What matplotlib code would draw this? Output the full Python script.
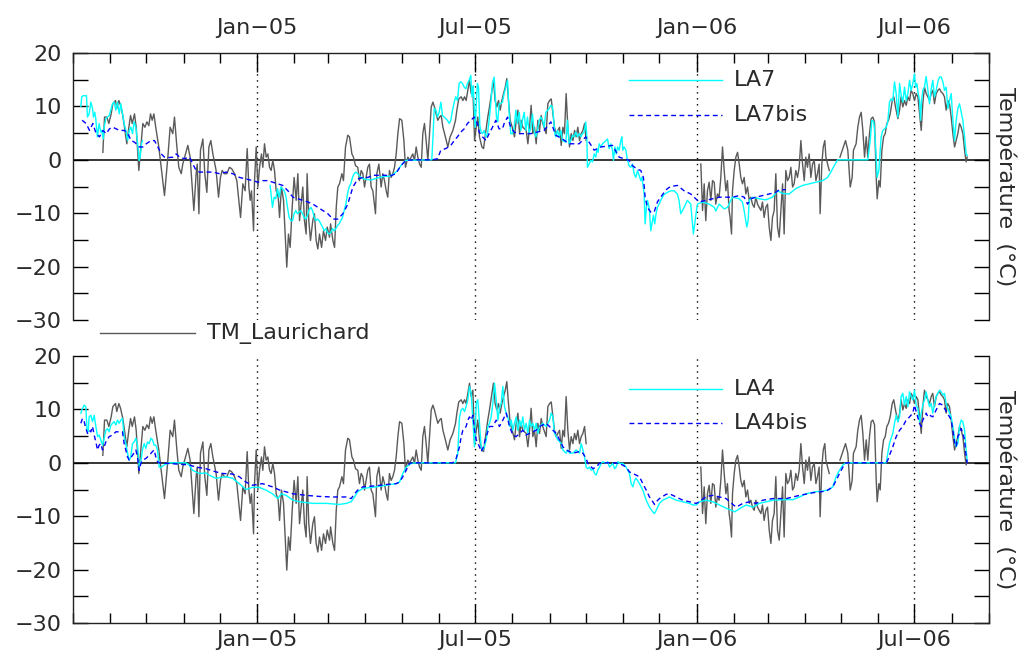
import numpy as np
import matplotlib
matplotlib.use("Agg")
import matplotlib.pyplot as plt
import matplotlib.dates as mdates
from matplotlib.lines import Line2D
from matplotlib.ticker import FuncFormatter, MultipleLocator
from datetime import datetime

# jours depuis le 1er aout 2004, temperature en degC (nan = trou dans la serie)
START = datetime(2004, 8, 1)

tm_laurichard = [
    (24.8, 1.4), (26.2, 8.0), (28.1, 8.0), (29.8, 6.8), (31.7, 8.6), (33.1, 10.5), (35.3, 11.1),
    (36.4, 9.6), (38.1, 11.1), (39.5, 10.2), (41.4, 8.3), (42.8, 6.1), (44.7, 3.0), (46.4, 6.1),
    (47.8, 8.3), (49.2, 6.8), (51.1, 8.6), (52.5, 6.1), (54.7, -2.0), (56.1, 1.8), (58.0, 6.8),
    (59.7, 6.1), (61.4, 7.1), (63.0, 6.4), (64.4, 8.6), (65.8, 7.4), (67.2, 8.6), (68.8, 6.0),
    (71.3, 2.4), (73.3, -1.4), (76.0, -6.7), (78.8, 0.5), (80.7, 6.1), (82.9, 4.9), (84.3, 8.0),
    (86.3, 2.4), (87.9, -1.4), (89.9, -2.6), (91.2, -0.8), (93.5, 1.1), (95.4, 2.7), (97.3, 0.5),
    (99.0, -5.1), (100.4, -9.5), (102.3, -2.6), (103.2, -0.8), (104.6, -10.1), (105.9, 1.8),
    (107.9, 3.9), (109.5, -2.6), (111.2, -6.1), (112.9, 2.4), (114.5, 3.6), (116.2, 1.1),
    (118.9, -2.0), (120.9, -7.0), (122.5, -3.3), (123.9, -2.0), (125.8, -2.6), (127.8, -2.6),
    (130.0, -1.4), (131.9, -1.7), (134.2, -2.6), (136.1, -3.9), (137.8, -7.6), (139.2, -10.8),
    (141.1, -4.5), (143.0, -5.8), (144.7, 2.1), (146.1, -5.1), (147.2, -7.6), (148.3, -5.8),
    (150.0, -13.3), (150.8, -3.9), (152.2, 2.4), (153.6, -5.1), (155.0, -1.4), (156.6, 1.1),
    (157.7, -1.4), (159.1, 3.0), (160.5, 0.5), (161.9, 1.1), (163.3, -1.4), (164.6, -2.0),
    (166.0, -0.1), (167.4, -2.0), (168.8, -5.8), (170.5, -7.0), (171.6, -10.8), (173.2, -5.1),
    (174.9, -7.6), (176.5, -15.1), (177.6, -20.1), (179.0, -13.9), (180.4, -16.4), (182.1, -8.9),
    (183.7, -3.3), (185.4, -7.6), (186.8, -2.6), (188.2, -11.4), (189.5, -8.3), (190.9, -5.1),
    (192.3, -11.4), (193.7, -13.9), (194.5, -2.6), (195.9, -11.4), (197.3, -15.1), (199.2, -11.4),
    (200.6, -10.1), (202.0, -15.1), (203.4, -16.7), (204.8, -13.9), (206.5, -16.4), (208.1, -13.3),
    (209.8, -15.1), (211.2, -12.6), (213.1, -14.5), (214.0, -12.0), (215.9, -15.1), (217.3, -16.4),
    (218.7, -8.9), (220.0, -5.1), (221.4, -4.5), (223.4, -2.6), (224.7, -3.9), (226.4, 2.4),
    (228.3, 4.6), (229.7, 4.3), (231.7, 1.1), (233.0, 0.5), (234.7, -1.1), (236.6, -1.4),
    (238.0, -3.9), (239.4, -2.0), (240.8, -2.6), (242.2, -5.1), (243.5, -3.3), (244.9, -1.4),
    (246.3, -0.8), (247.7, -5.1), (249.1, -5.8), (251.3, -10.1), (252.4, -2.6), (254.1, -0.8),
    (256.0, -5.1), (257.4, -2.6), (258.8, -3.9), (260.2, -5.8), (261.5, -7.0), (262.9, -2.0),
    (264.3, -3.3), (265.7, -2.6), (267.1, -1.4), (268.5, 1.1), (269.9, 4.9), (271.3, 7.7),
    (273.2, 7.4), (274.9, 3.6), (276.2, -1.4), (278.2, 0.5), (279.6, -0.1), (281.0, 0.5),
    (282.3, 1.1), (283.7, -0.1), (285.1, 2.4), (286.5, 0.5), (287.9, -0.8), (289.3, -1.4),
    (290.6, 4.9), (292.0, 6.8), (293.4, 3.6), (294.8, -0.1), (296.2, 4.9), (297.6, 9.9),
    (299.0, 10.8), (300.3, 9.9), (301.7, 8.6), (303.1, 7.4), (304.5, 8.0), (305.9, 8.3),
    (307.3, 6.1), (308.7, 4.9), (311.4, 2.4), (313.3, 4.3), (315.6, 5.5), (317.8, 7.4),
    (318.9, 9.3), (320.5, 11.4), (322.5, 11.8), (323.9, 11.1), (325.3, 11.8), (326.6, 11.1),
    (328.0, 13.0), (329.4, 14.9), (330.8, 12.4), (332.2, 13.6), (333.6, 3.6), (335.0, 6.1),
    (336.3, 8.0), (337.7, 4.3), (339.7, 2.4), (341.1, 2.1), (342.7, 4.9), (344.6, 8.0),
    (346.0, 9.9), (348.0, 13.0), (349.3, 14.9), (350.7, 11.1), (352.1, 9.9), (353.5, 11.1),
    (354.9, 9.3), (356.3, 11.1), (357.7, 12.4), (359.1, 13.6), (360.4, 15.2), (361.8, 11.1),
    (363.2, 7.4), (364.9, 6.1), (366.8, 4.3), (368.2, 7.4), (369.6, 9.3), (371.0, 4.9),
    (372.3, 7.4), (373.7, 6.1), (376.5, 5.5), (377.9, 3.0), (379.3, 6.1), (380.6, 10.2),
    (382.0, 4.9), (383.4, 6.1), (384.8, 3.0), (386.2, 7.4), (387.6, 5.5), (389.0, 8.3),
    (390.3, 6.8), (393.1, 4.9), (394.5, 10.5), (395.9, 11.1), (397.3, 11.4), (398.7, 8.6),
    (400.0, 6.1), (401.4, 4.9), (404.2, 6.1), (405.6, 2.7), (407.0, 6.1), (408.3, 4.9),
    (409.7, 12.4), (411.1, 6.1), (412.5, 2.4), (413.9, 4.9), (415.3, 3.6), (416.7, 5.5),
    (418.0, 4.3), (419.4, 6.1), (420.8, 3.6), (422.2, 4.9), (423.6, 5.5), (425.0, 6.8),
    (426.3, 3.6), (427.0, np.nan),
    (521.6, -0.8), (523.0, -9.5), (524.4, -4.5), (525.7, -11.4), (527.1, -5.8), (528.5, -4.2),
    (529.9, -7.6), (531.3, -3.9), (532.7, -4.2), (534.0, -8.3), (535.4, -6.4), (536.8, -7.0),
    (538.2, -3.3), (539.6, 2.4), (541.0, -2.0), (542.4, -5.8), (543.7, -3.9), (545.1, -9.5),
    (545.9, -10.8), (547.1, -13.9), (547.9, -5.8), (549.3, -2.0), (550.7, 0.5), (552.1, 1.4),
    (553.5, -0.8), (554.8, -3.3), (556.2, -4.5), (557.6, -3.3), (559.0, -6.4), (560.4, -5.1),
    (561.8, -7.6), (563.1, -7.0), (564.5, -8.3), (565.9, -8.9), (567.3, -7.0), (568.7, -8.3),
    (570.1, -8.9), (571.5, -9.5), (572.8, -7.9), (574.2, -10.8), (575.6, -8.9), (577.0, -8.3),
    (578.4, -12.6), (579.8, -15.1), (581.1, -10.8), (582.5, -9.5), (583.9, -2.6), (585.3, -12.6),
    (586.7, -14.5), (588.1, -9.5), (589.5, -4.5), (590.8, -13.9), (592.2, -2.0), (593.6, -3.9),
    (595.0, -3.3), (596.4, -1.4), (597.8, -5.1), (599.1, -4.5), (600.5, -2.0), (601.9, -3.3),
    (603.3, -1.4), (604.7, 3.6), (606.1, -0.8), (607.5, -3.9), (608.8, 0.5), (610.2, -1.4),
    (611.6, 1.1), (613.0, -3.3), (614.4, -0.8), (615.8, -0.1), (617.2, -3.9), (618.5, -2.6),
    (619.9, -0.8), (620.7, -10.1), (622.1, -0.8), (623.3, 2.4), (624.6, 3.6), (625.5, 0.5),
    (626.9, -0.8), (628.3, -2.0), (632.0, np.nan),
    (637.2, 0.5), (639.6, 2.1), (641.8, 3.6), (643.7, 1.8), (645.7, -5.1), (647.3, -3.3),
    (648.4, 1.8), (650.6, 3.0), (652.0, 6.1), (653.4, 8.0), (654.8, 8.9), (656.2, 5.5),
    (657.6, 0.5), (659.0, 4.3), (660.3, 0.5), (661.7, 4.9), (663.1, 7.7), (664.5, 8.0),
    (665.9, 7.1), (667.3, -3.3), (668.1, -7.3), (669.5, -3.9), (670.6, -5.1), (672.0, 1.8),
    (673.4, 4.3), (674.8, 4.9), (676.1, 6.8), (677.5, 7.4), (678.9, 8.6), (680.6, 11.1),
    (681.9, 11.8), (683.3, 9.9), (685.3, 7.7), (686.7, 9.3), (688.0, 11.8), (689.4, 9.9),
    (690.8, 11.1), (692.2, 10.2), (693.6, 11.8), (695.0, 11.1), (696.3, 13.0), (697.7, 12.4),
    (699.1, 11.1), (700.5, 12.4), (701.9, 11.8), (703.3, 8.6), (704.7, 5.5), (706.0, 10.5),
    (707.4, 13.6), (708.8, 12.4), (710.2, 11.8), (711.6, 11.1), (713.0, 12.4), (714.3, 13.0),
    (715.7, 10.5), (717.1, 12.4), (718.5, 13.0), (719.9, 13.3), (721.3, 12.7), (722.7, 12.4),
    (724.0, 11.8), (725.4, 9.3), (726.8, 11.1), (728.2, 10.5), (729.6, 8.0), (731.0, 4.9),
    (732.4, 2.4), (733.7, 3.6), (735.1, 4.9), (736.5, 6.8), (737.9, 6.1), (739.3, 4.9),
    (740.7, 1.8), (742.0, -0.4), (742.9, 0.5),
]

la7 = [
    (6.5, 10.0), (7.3, 11.8), (8.3, 12.0), (11.2, 12.0), (12.0, 8.0), (13.4, 8.6), (14.8, 10.8),
    (16.2, 9.6), (17.0, 8.0), (18.1, 8.9), (18.9, 7.7), (20.3, 4.3), (21.7, 6.8), (23.1, 5.2),
    (23.9, 5.5), (25.2, 3.9), (25.9, 6.1), (27.3, 7.7), (28.7, 8.0), (30.1, 8.3), (31.4, 9.3),
    (32.8, 10.5), (34.2, 10.8), (35.6, 9.3), (37.0, 10.8), (38.4, 8.6), (39.7, 10.5), (41.1, 8.6),
    (42.5, 6.8), (43.9, 5.5), (45.3, 3.6), (46.7, 5.5), (48.1, 6.1), (49.4, 4.9), (50.8, 7.1),
    (52.2, 6.1), (53.6, 3.3), (55.0, -0.1), (55.8, 0.5), (56.9, 3.0), (57.7, 3.6), (60.0, np.nan),
    (163.8, -4.8), (165.7, -8.9), (167.1, -7.0), (168.5, -7.3), (169.9, -5.4), (171.3, -7.0),
    (172.7, -5.1), (174.0, -5.4), (175.4, -5.8), (176.8, -6.7), (178.2, -8.9), (179.6, -10.8),
    (181.0, -11.4), (182.4, -11.4), (183.7, -10.1), (185.1, -9.5), (186.5, -10.1), (187.9, -9.8),
    (189.3, -9.5), (190.7, -10.1), (192.0, -10.8), (193.4, -11.1), (194.8, -10.4), (196.2, -9.3),
    (197.6, -8.9), (199.0, -9.5), (200.4, -10.8), (201.7, -11.4), (203.1, -11.1), (204.5, -11.4),
    (205.9, -12.0), (207.3, -12.6), (208.7, -13.3), (210.1, -12.9), (211.4, -13.6), (212.8, -13.9),
    (214.2, -13.6), (215.6, -12.9), (217.0, -13.3), (218.4, -12.9), (219.7, -12.3), (221.1, -12.0),
    (222.5, -11.4), (223.9, -10.8), (225.3, -9.5), (226.7, -8.3), (228.0, -6.4), (229.4, -5.1),
    (230.8, -4.5), (232.2, -3.3), (233.6, -2.6), (235.0, -2.3), (236.4, -2.6), (239.1, -3.3),
    (241.9, -3.6), (247.4, -3.8), (253.0, -3.4), (258.5, -3.1), (262.7, -3.1), (266.8, -2.6),
    (269.6, -2.0), (272.4, -1.1), (275.1, -0.4), (276.5, -0.1), (298.1, 0.0), (299.2, 4.9),
    (300.1, 9.6), (301.5, 9.3), (302.8, 8.0), (304.2, 8.9), (305.6, 10.8), (307.0, 8.3),
    (308.4, 8.0), (309.7, 7.7), (311.1, 7.4), (312.5, 6.8), (313.9, 7.4), (315.3, 9.3),
    (316.7, 10.8), (318.0, 11.8), (319.4, 11.1), (320.8, 14.3), (322.2, 14.6), (323.6, 14.3),
    (325.0, 13.6), (326.4, 13.3), (327.7, 14.3), (329.1, 14.9), (330.5, 15.8), (331.4, 11.8),
    (332.5, 13.9), (333.3, 9.9), (334.1, 6.1), (335.2, 11.1), (336.0, 14.3), (336.9, 13.6),
    (338.0, 6.4), (339.1, 5.2), (340.2, 4.9), (341.6, 5.5), (343.0, 4.3), (344.4, 4.9),
    (345.7, 7.4), (347.1, 10.5), (348.5, 14.3), (349.9, 15.5), (350.7, 12.4), (351.8, 8.0),
    (352.9, 7.1), (354.0, 10.5), (355.4, 10.5), (356.8, 10.8), (358.2, 12.4), (359.6, 13.6),
    (361.0, 14.9), (362.4, 8.6), (363.7, 4.9), (365.1, 4.9), (366.5, 6.1), (367.9, 9.3),
    (369.3, 6.8), (370.7, 8.9), (372.1, 5.5), (373.4, 7.4), (374.8, 8.9), (376.2, 5.5),
    (377.6, 8.0), (379.0, 4.9), (380.4, 6.1), (381.7, 8.6), (383.1, 5.5), (384.5, 4.3),
    (385.9, 5.5), (387.3, 7.4), (388.7, 8.0), (390.1, 7.4), (391.4, 6.1), (392.8, 8.9),
    (395.6, 9.6), (397.0, 10.2), (398.4, 9.9), (399.2, 8.0), (400.3, 4.9), (401.1, 4.3),
    (402.5, 5.5), (403.9, 4.3), (405.3, 5.5), (406.6, 3.6), (409.4, 3.3), (410.8, 7.4),
    (412.2, 3.0), (413.6, 3.6), (415.0, 4.6), (416.3, 4.3), (417.7, 5.2), (419.1, 4.3),
    (420.5, 4.9), (421.9, 4.3), (423.3, 4.9), (424.7, 5.2), (426.0, 7.1), (426.9, 4.3),
    (427.4, -1.4), (428.8, -0.8), (430.2, -0.1), (431.6, -0.4), (433.0, 1.1), (434.4, 0.5),
    (435.2, 2.1), (436.3, 1.4), (437.1, 3.0), (438.5, 2.4), (439.9, 3.0), (441.3, 3.3),
    (442.7, 3.6), (444.1, 3.9), (445.4, 2.1), (446.8, 3.0), (448.2, 1.8), (449.0, -0.1),
    (450.2, 2.4), (451.3, 1.1), (452.4, 2.4), (453.7, 1.8), (455.1, 3.6), (456.0, 4.3),
    (456.8, 1.8), (457.9, 2.4), (459.3, 1.8), (460.7, -0.1), (462.0, -1.1), (463.4, -1.4),
    (464.8, -0.8), (466.2, -2.6), (467.6, -3.3), (469.0, -2.0), (470.3, -2.9), (471.7, -3.9),
    (472.6, -3.3), (473.4, -4.5), (474.5, -6.4), (475.3, -12.0), (476.4, -8.9), (477.2, -7.6),
    (478.1, -8.3), (478.9, -9.5), (480.0, -13.3), (481.4, -11.4), (482.2, -10.4), (483.3, -12.0),
    (484.4, -10.1), (485.5, -8.9), (486.9, -8.3), (488.3, -7.6), (489.7, -7.0), (491.1, -6.5),
    (493.8, -6.1), (496.6, -5.8), (499.4, -5.8), (502.1, -6.4), (503.5, -7.6), (504.9, -10.1),
    (506.3, -9.5), (507.7, -8.9), (510.4, -7.6), (513.2, -8.3), (514.6, -12.0), (515.4, -13.9),
    (516.5, -12.0), (517.6, -10.1), (518.8, -8.3), (523.0, -7.9), (528.5, -8.3), (532.7, -8.9),
    (534.0, -9.6), (536.8, -8.3), (541.0, -9.2), (543.7, -8.9), (546.5, -7.6), (547.9, -7.0),
    (553.5, -7.3), (556.2, -7.9), (557.6, -9.5), (559.0, -11.4), (559.8, -12.6), (560.9, -11.4),
    (561.8, -7.6), (564.5, -7.0), (570.1, -7.3), (575.6, -7.5), (581.1, -7.0), (585.3, -5.8),
    (589.5, -6.3), (595.0, -6.4), (600.5, -5.4), (606.1, -4.8), (611.6, -4.5), (617.2, -4.2),
    (622.7, -3.9), (626.9, -3.3), (629.6, -2.3), (632.4, -1.1), (635.2, 0.0), (660.3, 0.0),
    (662.3, 3.6), (663.7, 7.4), (665.3, 7.1), (666.7, 3.0), (668.1, -3.3), (669.5, -2.0),
    (670.6, 1.8), (671.4, 4.3), (672.8, 5.5), (674.2, 5.8), (675.6, 6.1), (676.9, 7.1),
    (678.3, 10.8), (679.7, 11.4), (681.1, 11.1), (682.5, 14.6), (683.9, 12.4), (685.3, 8.0),
    (686.7, 14.3), (688.0, 12.1), (689.4, 10.8), (690.8, 13.6), (692.2, 11.1), (693.6, 12.4),
    (695.0, 14.9), (696.3, 13.0), (697.7, 14.3), (699.1, 16.1), (700.0, 13.6), (701.1, 14.3),
    (702.2, 12.4), (703.3, 11.1), (704.1, 7.4), (705.0, 11.1), (706.0, 13.0), (707.4, 13.6),
    (708.8, 15.6), (710.2, 13.0), (711.6, 10.5), (713.0, 13.3), (714.3, 14.9), (715.7, 11.8),
    (717.1, 13.0), (718.5, 14.6), (719.9, 15.5), (721.3, 15.5), (722.7, 14.6), (724.0, 13.0),
    (725.4, 13.6), (726.8, 9.6), (728.2, 11.1), (729.6, 12.4), (731.0, 7.4), (732.4, 3.6),
    (733.7, 7.4), (735.1, 9.6), (736.5, 10.5), (737.9, 8.9), (739.3, 7.4), (740.7, 4.3),
    (742.0, 1.1), (742.9, 0.8),
]

la7bis = [
    (7.6, 7.4), (10.9, 6.8), (13.7, 5.5), (16.5, 6.8), (19.2, 4.9), (22.0, 4.3), (24.8, 5.5),
    (27.6, 4.9), (30.3, 5.8), (33.1, 6.1), (35.9, 5.8), (38.6, 5.5), (42.8, 5.5), (45.6, 4.9),
    (48.3, 3.6), (51.1, 3.3), (55.2, 2.4), (58.0, 2.4), (60.8, 3.0), (64.9, 3.6), (67.7, 3.6),
    (70.5, 2.4), (73.3, 1.1), (76.0, 0.5), (78.8, 0.4), (83.0, 0.5), (85.7, 1.1), (88.5, 0.5),
    (92.6, 0.2), (96.8, 0.5), (99.6, -0.8), (102.3, -2.0), (105.1, -2.3), (110.6, -2.3),
    (116.2, -2.3), (121.7, -2.6), (127.2, -2.3), (132.8, -2.6), (138.3, -3.3), (143.9, -3.6),
    (149.4, -3.9), (153.6, -4.2), (157.7, -3.9), (161.9, -3.9), (166.0, -4.2), (170.2, -4.5),
    (174.3, -4.8), (178.5, -5.8), (182.7, -7.0), (186.8, -7.3), (191.0, -7.6), (195.1, -7.9),
    (199.3, -8.3), (203.4, -8.9), (207.6, -9.5), (211.7, -10.1), (215.9, -11.1), (220.0, -11.1),
    (224.2, -10.1), (228.3, -8.3), (232.5, -5.1), (236.6, -3.6), (240.8, -3.3), (245.0, -3.3),
    (249.1, -2.9), (254.7, -2.9), (260.2, -2.9), (262.7, -3.1), (268.2, -2.6), (272.4, -1.1),
    (276.5, -0.1), (284.8, 0.0), (298.6, 0.0), (302.8, 0.2), (305.6, 1.8), (309.7, 2.1),
    (313.9, 2.7), (316.7, 3.6), (319.4, 4.3), (322.2, 5.2), (325.0, 5.8), (327.7, 6.8),
    (330.5, 7.4), (333.3, 8.0), (336.0, 6.8), (337.4, 5.2), (340.2, 4.3), (343.0, 3.6),
    (345.7, 4.9), (348.5, 6.1), (351.3, 7.4), (354.0, 5.8), (356.8, 5.8), (358.2, 6.8),
    (361.0, 8.0), (363.7, 6.1), (366.5, 5.2), (369.3, 4.9), (374.8, 4.9), (380.4, 4.9),
    (385.9, 5.2), (391.4, 5.5), (397.0, 7.1), (401.1, 4.6), (406.6, 3.9), (412.2, 3.0),
    (420.5, 3.0), (426.0, 4.3), (433.0, 1.8), (438.5, 2.4), (448.2, 2.7), (453.7, 0.5),
    (462.0, -0.1), (464.8, -1.1), (469.0, -1.8), (471.7, -2.0), (473.9, -3.3), (475.3, -7.0),
    (477.2, -8.9), (480.0, -9.8), (482.8, -9.8), (485.5, -7.9), (488.3, -7.0), (491.1, -6.1),
    (493.8, -5.4), (496.6, -5.0), (502.1, -4.8), (507.7, -5.8), (513.2, -6.4), (518.8, -7.6),
    (520.2, -7.9), (525.7, -7.6), (531.3, -7.3), (536.8, -7.0), (547.9, -7.0), (553.5, -6.7),
    (557.6, -7.0), (560.4, -8.3), (563.1, -7.3), (567.3, -7.0), (572.8, -6.7), (578.4, -6.4),
    (583.9, -6.1), (586.7, -5.6), (592.2, -5.6),
]

la4 = [
    (6.5, 9.3), (7.9, 10.2), (9.3, 10.8), (10.7, 10.5), (11.5, 6.4), (12.6, 5.8), (13.4, 8.6),
    (14.8, 8.9), (16.2, 7.7), (17.6, 8.9), (19.0, 6.8), (20.4, 4.9), (21.7, 5.2), (23.1, 4.3),
    (24.5, 3.3), (25.9, 4.6), (27.3, 6.1), (28.7, 6.4), (30.0, 5.8), (31.4, 7.0), (32.8, 7.4),
    (34.2, 7.7), (35.6, 7.1), (37.0, 8.0), (38.4, 7.4), (39.7, 8.0), (41.1, 8.3), (42.5, 4.9),
    (43.9, 3.6), (45.3, 1.8), (46.7, 0.5), (48.0, 1.1), (49.4, 3.6), (50.8, 3.9), (52.2, 4.6),
    (53.6, 3.3), (55.0, -0.8), (56.4, 0.2), (57.7, 2.4), (59.1, 3.6), (60.5, 2.7), (61.9, 3.9),
    (63.3, 3.6), (64.7, 4.6), (66.0, 4.3), (67.4, 3.3), (68.8, 3.3), (70.2, 2.4), (71.6, -0.8),
    (73.0, -0.9), (75.7, -0.4), (79.9, 0.0), (93.7, 0.0), (96.5, -0.4), (99.3, -1.4),
    (104.8, -2.0), (110.4, -1.9), (113.1, -2.3), (118.7, -2.9), (127.0, -2.6), (132.5, -2.9),
    (138.1, -3.9), (143.6, -5.0), (149.1, -4.6), (154.7, -4.6), (160.2, -5.1), (165.7, -5.8),
    (170.2, -6.7), (173.0, -5.8), (177.1, -6.1), (182.7, -7.0), (188.2, -7.3), (199.3, -7.6),
    (210.3, -7.6), (221.4, -7.8), (227.0, -7.6), (231.1, -7.3), (233.9, -6.4), (236.6, -5.4),
    (240.8, -4.8), (251.9, -4.5), (263.0, -4.1), (268.5, -3.9), (271.3, -3.6), (274.0, -2.0),
    (276.8, -0.8), (281.0, -0.1), (285.1, 0.0), (317.8, 0.0), (319.7, 1.8), (321.1, 8.6),
    (322.5, 9.9), (323.9, 10.2), (325.3, 9.6), (326.6, 10.5), (328.0, 11.8), (329.4, 14.3),
    (330.8, 13.0), (332.2, 8.0), (333.6, 3.0), (335.0, 11.1), (336.3, 11.8), (337.7, 7.4),
    (339.1, 3.0), (340.5, 2.4), (341.9, 3.0), (343.3, 4.3), (344.6, 6.8), (346.0, 7.4),
    (347.4, 8.6), (348.8, 11.1), (350.2, 14.9), (351.6, 11.8), (353.0, 8.0), (354.3, 10.2),
    (355.7, 11.1), (357.1, 14.3), (358.5, 10.5), (359.9, 9.3), (361.3, 8.6), (362.7, 6.8),
    (364.1, 8.0), (365.4, 6.1), (366.8, 7.4), (368.2, 8.6), (369.6, 6.1), (371.0, 8.0),
    (372.4, 6.8), (373.7, 8.6), (375.1, 6.1), (376.5, 7.4), (377.9, 5.5), (379.3, 8.0),
    (380.6, 6.8), (382.0, 7.4), (383.4, 6.1), (384.8, 7.4), (386.2, 5.5), (387.6, 6.8),
    (390.3, 7.4), (393.1, 6.8), (395.9, 8.0), (397.3, 9.3), (398.7, 8.6), (400.0, 5.5),
    (401.4, 4.9), (402.8, 4.3), (405.6, 3.6), (407.0, 2.4), (408.3, 2.1), (409.7, 1.8),
    (411.1, 2.4), (412.5, 1.8), (415.3, 1.8), (418.0, 2.4), (420.8, 1.8), (422.2, 3.6),
    (423.6, 2.4), (425.0, 1.1), (426.3, -0.8), (427.7, -1.1), (429.1, -0.8), (430.5, -1.4),
    (431.9, -1.1), (433.3, -2.0), (434.6, -2.3), (436.0, -1.4), (437.4, -0.8), (438.8, -0.1),
    (440.2, 0.2), (442.9, -0.1), (444.3, 0.2), (445.7, -0.8), (448.5, -0.1), (449.9, -1.1),
    (451.2, -0.8), (452.6, 0.2), (454.0, -0.1), (456.8, -0.1), (459.5, -0.8), (462.3, -2.0),
    (463.7, -3.9), (465.1, -4.5), (466.5, -3.3), (467.8, -2.9), (470.6, -3.9), (473.4, -5.1),
    (476.2, -7.0), (478.9, -8.3), (481.7, -9.2), (483.1, -9.5), (484.5, -8.9), (487.2, -7.6),
    (490.0, -7.0), (492.8, -6.7), (495.6, -6.4), (501.1, -7.0), (506.6, -7.3), (512.2, -7.6),
    (514.9, -7.9), (517.7, -7.9), (520.5, -7.3), (526.0, -7.0), (531.6, -7.3), (537.1, -7.9),
    (542.6, -8.5), (548.2, -9.0), (549.6, -9.2), (553.7, -8.6), (559.2, -7.9), (564.8, -8.3),
    (570.3, -7.6), (575.9, -7.3), (581.4, -7.0), (592.5, -6.9), (598.0, -6.9), (603.6, -6.4),
    (609.1, -5.8), (617.4, -5.4), (622.9, -5.3), (628.5, -5.0), (631.2, -4.5), (634.0, -2.6),
    (636.8, -1.4), (639.6, -0.4), (642.3, 0.0), (675.6, 0.0), (676.9, 1.8), (678.3, 3.6),
    (679.7, 4.6), (681.1, 5.5), (682.5, 7.4), (683.9, 8.9), (685.3, 7.7), (686.7, 8.6),
    (688.0, 12.4), (689.4, 13.0), (690.8, 10.8), (692.2, 12.4), (693.6, 10.5), (695.0, 13.3),
    (696.3, 12.4), (697.7, 11.8), (699.1, 13.6), (700.5, 10.8), (701.9, 10.2), (703.3, 7.7),
    (704.7, 9.3), (706.0, 10.8), (707.4, 11.8), (708.8, 13.3), (710.2, 11.8), (711.6, 10.5),
    (713.0, 11.1), (714.3, 9.3), (715.7, 10.8), (717.1, 12.4), (718.5, 13.0), (719.9, 13.6),
    (721.3, 13.3), (722.7, 12.7), (724.0, 13.0), (725.4, 11.1), (726.8, 10.2), (728.2, 9.3),
    (729.6, 8.6), (731.0, 6.8), (732.4, 4.6), (733.7, 3.0), (735.1, 3.6), (736.5, 6.8),
    (737.9, 8.0), (739.3, 7.7), (740.7, 6.1), (742.0, 2.4), (742.9, 0.5),
]

la4bis = [
    (6.5, 7.4), (7.9, 8.3), (9.3, 7.7), (10.7, 6.4), (12.1, 5.5), (13.4, 6.1), (14.8, 5.8),
    (16.2, 6.8), (17.6, 5.2), (19.0, 3.9), (20.4, 2.4), (21.7, 3.3), (23.1, 3.6), (24.5, 2.4),
    (25.9, 3.0), (27.3, 3.9), (30.0, 4.9), (32.8, 5.2), (35.6, 5.8), (38.4, 5.8), (41.1, 5.8),
    (42.5, 3.6), (43.9, 2.4), (45.3, 1.1), (46.7, 0.5), (49.4, 1.4), (52.2, 2.4), (53.6, 1.1),
    (55.0, -1.4), (56.4, -0.1), (57.7, 0.5), (60.5, 0.8), (63.3, 1.4), (66.0, 2.1), (67.4, 2.4),
    (68.8, 1.1), (70.2, 0.2), (71.6, 0.0), (96.5, -0.4), (102.0, -0.8), (110.4, -1.1),
    (118.7, -1.7), (124.2, -2.0), (132.5, -2.1), (138.1, -2.6), (143.6, -3.6), (149.1, -4.2),
    (157.4, -3.9), (165.7, -4.5), (171.6, -5.1), (182.7, -5.8), (193.8, -6.1), (204.8, -6.3),
    (215.9, -6.4), (227.0, -6.4), (231.1, -6.7), (233.9, -5.8), (236.6, -5.1), (240.8, -4.5),
    (251.9, -4.3), (263.0, -4.0), (268.5, -3.9), (271.3, -3.6), (274.0, -2.6), (276.8, -1.4),
    (279.6, -0.1), (282.3, 0.0), (315.6, 0.0), (318.3, 0.8), (321.1, 3.0), (322.5, 4.9),
    (323.9, 6.1), (326.6, 6.8), (328.0, 8.0), (329.4, 8.6), (330.8, 8.0), (332.2, 8.9),
    (333.6, 6.1), (335.0, 4.3), (337.7, 3.0), (339.1, 2.1), (340.5, 2.7), (343.3, 4.9),
    (346.0, 6.8), (348.8, 6.8), (351.6, 8.0), (354.3, 6.8), (357.1, 8.0), (359.9, 9.3),
    (362.7, 6.8), (365.4, 5.2), (368.2, 4.9), (371.0, 5.5), (373.7, 6.1), (376.5, 5.2),
    (379.3, 5.5), (382.0, 5.8), (384.8, 6.1), (387.6, 6.8), (390.3, 7.1), (393.1, 7.4),
    (395.9, 6.8), (398.7, 6.1), (401.4, 5.5), (404.2, 4.3), (407.0, 3.0), (409.7, 2.4),
    (415.3, 1.8), (420.8, 2.1), (423.6, 1.8), (426.3, 0.8), (427.7, -0.1), (431.9, -1.1),
    (434.6, -0.8), (437.4, -0.1), (440.2, 0.0), (448.5, 0.0), (454.0, -0.1), (459.5, -0.8),
    (462.3, -1.7), (465.1, -2.0), (467.8, -2.3), (470.6, -2.6), (473.4, -3.9), (476.2, -5.1),
    (478.9, -6.4), (481.7, -7.3), (483.1, -7.8), (484.5, -7.3), (487.2, -6.7), (490.0, -6.3),
    (492.8, -5.9), (495.6, -5.8), (501.1, -6.4), (506.6, -7.0), (512.2, -7.3), (517.7, -7.6),
    (520.5, -7.3), (526.0, -6.3), (531.6, -6.1), (537.1, -6.4), (542.6, -6.7), (548.2, -7.8),
    (551.0, -8.3), (556.5, -7.6), (562.1, -7.3), (567.6, -7.6), (573.1, -7.0), (581.4, -6.7),
    (592.5, -6.7), (603.6, -6.1), (614.7, -5.6), (625.7, -5.3), (631.2, -4.5), (634.0, -3.3),
    (636.8, -2.0), (639.6, -0.8), (642.3, 0.0), (675.6, 0.0), (676.9, 0.5), (678.3, 1.4),
    (681.1, 3.0), (683.9, 4.9), (686.7, 6.1), (689.4, 6.8), (692.2, 8.0), (695.0, 8.6),
    (697.7, 9.3), (699.1, 10.8), (700.5, 9.6), (703.3, 7.4), (704.7, 6.8), (706.0, 8.0),
    (708.8, 9.3), (710.2, 8.6), (711.6, 8.9), (714.3, 8.6), (717.1, 9.9), (719.9, 11.1),
    (722.7, 10.8), (725.4, 9.6), (728.2, 8.6), (729.6, 8.0), (731.0, 6.1), (732.4, 3.9),
    (733.7, 3.0), (735.1, 4.9), (736.5, 5.5), (737.9, 6.4), (739.3, 5.5), (740.7, 4.3),
    (742.0, 1.1), (742.9, -0.1),
]

GRAY = "#5a5a5a"
CYAN = "#00ffff"
BLUE = "#0000ff"
TXT = "#2a2a2a"
FS = 16

plt.rcParams["font.family"] = ["DejaVu Sans"]

W, H = 1023, 657
fig = plt.figure(figsize=(W / 100, H / 100), dpi=100)
fig.patch.set_facecolor("white")


def box(l, t, r, b):
    return [l / W, 1 - b / H, (r - l) / W, (b - t) / H]


def serie(pairs):
    a = np.array(pairs, dtype=float)
    return mdates.date2num(START) + a[:, 0], a[:, 1]


def mois(x, pos=None):
    d = mdates.num2date(x)
    return d.strftime("%b") + "\u2212" + d.strftime("%y")


x0 = mdates.date2num(datetime(2004, 8, 1))
x1 = mdates.date2num(datetime(2006, 9, 1))
reperes = [mdates.date2num(datetime(y, m, 1)) for y, m in [(2005, 1), (2005, 7), (2006, 1), (2006, 7)]]

ax_top = fig.add_axes(box(73, 53, 989, 320))
ax_bot = fig.add_axes(box(73, 356, 989, 623))

panels = [(ax_top, la7, la7bis, True), (ax_bot, la4, la4bis, False)]
for ax, cyan_s, blue_s, en_haut in panels:
    ax.set_xlim(x0, x1)
    ax.set_ylim(-30, 20)
    ax.axhline(0, color="black", lw=1.1, zorder=1)
    for xr in reperes:
        ax.axvline(xr, color="black", lw=1.0, ls=(0, (1.0, 3.3)), zorder=1)

    x, y = serie(tm_laurichard)
    ax.plot(x, y, color=GRAY, lw=1.0, zorder=2)
    x, y = serie(cyan_s)
    ax.plot(x, y, color=CYAN, lw=1.0, zorder=3)
    x, y = serie(blue_s)
    ax.plot(x, y, color=BLUE, lw=1.0, ls=(0, (3.5, 2.5)), zorder=4)

    ax.yaxis.set_major_locator(MultipleLocator(10))
    ax.yaxis.set_minor_locator(MultipleLocator(5))
    ax.yaxis.set_major_formatter(FuncFormatter(lambda v, p: f"{int(v)}".replace("-", "\u2212")))
    ax.tick_params(axis="y", which="both", direction="in", left=True, right=True,
                   length=10.8, width=1.0, color="black", labelsize=FS, labelcolor=TXT, pad=8)

    ax.xaxis.set_major_locator(mdates.MonthLocator(bymonth=[1, 7]))
    ax.xaxis.set_minor_locator(mdates.MonthLocator())
    ax.xaxis.set_major_formatter(FuncFormatter(mois))
    if en_haut:
        ax.tick_params(axis="x", which="both", direction="in", top=True, bottom=False,
                       labeltop=True, labelbottom=False)
        ax.tick_params(axis="x", which="major", length=13.5, pad=11)
        ax.spines["bottom"].set_visible(False)
    else:
        ax.tick_params(axis="x", which="both", direction="in", top=False, bottom=True,
                       labeltop=False, labelbottom=True)
        ax.tick_params(axis="x", which="major", length=13.5, pad=5)
        ax.spines["top"].set_visible(False)
    ax.tick_params(axis="x", which="minor", length=7.2, width=1.0)
    ax.tick_params(axis="x", which="major", width=1.0, labelsize=FS, labelcolor=TXT)
    for s in ax.spines.values():
        s.set_linewidth(1.0)
        s.set_color("#222222")


def legende(px0, px1, py, txt, color, ls):
    fig.add_artist(Line2D([px0 / W, px1 / W], [1 - py / H, 1 - py / H],
                          transform=fig.transFigure, color=color, lw=1.0, ls=ls))
    fig.text((px1 + 12) / W, 1 - py / H, txt, fontsize=FS, color=TXT, va="center", ha="left")


legende(629, 722, 80, "LA7", CYAN, "-")
legende(629, 722, 115, "LA7bis", BLUE, (0, (3.5, 2.5)))
legende(629, 722, 389, "LA4", CYAN, "-")
legende(629, 722, 423, "LA4bis", BLUE, (0, (3.5, 2.5)))
legende(100, 195, 333, "TM_Laurichard", GRAY, "-")

for yc in [(53 + 320) / 2, (356 + 623) / 2]:
    fig.text(1006 / W, 1 - yc / H, "Température  (°C)", rotation=-90, fontsize=FS,
             color=TXT, va="center", ha="center")

fig.savefig("out.png", dpi=100)
